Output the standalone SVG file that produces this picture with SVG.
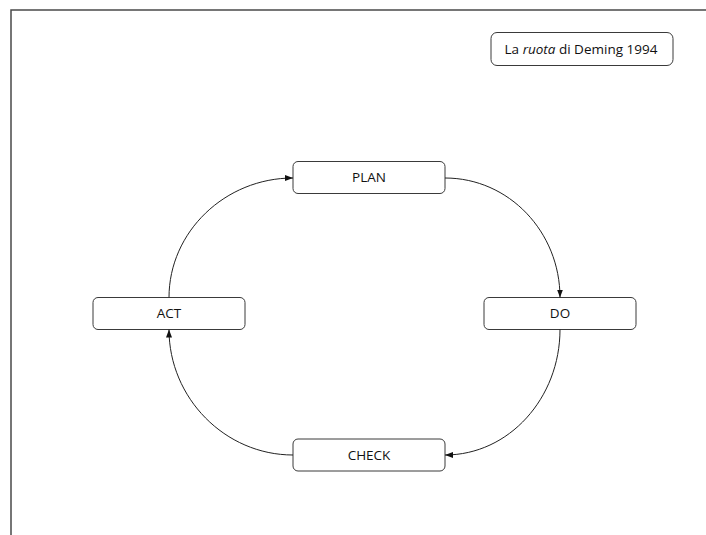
<svg xmlns="http://www.w3.org/2000/svg" width="706" height="535" viewBox="0 0 706 535">
  <style>
    .box { fill: #ffffff; stroke: #3a3a3a; stroke-width: 1; }
    .label { font-family: "Open Sans", "Liberation Sans", Arial, sans-serif; font-size: 13.5px; fill: #111111; text-anchor: middle; dominant-baseline: central; }
    .edge { fill: none; stroke: #222222; stroke-width: 1; marker-end: url(#arrow); }
    .frame { fill: none; stroke: #4a4a4a; stroke-width: 1.5; }
  </style>
  <defs>
    <marker id="arrow" viewBox="0 0 8 6" refX="8" refY="3" markerWidth="8" markerHeight="6" markerUnits="userSpaceOnUse" orient="auto">
      <path d="M0,0 L8,3 L0,6 Z" fill="#111111"/>
    </marker>
  </defs>

  <rect width="706" height="535" fill="#ffffff"/>

  <!-- page frame: top and left edges -->
  <path class="frame" d="M11,535 L11,10 L706,10"/>

  <g id="title">
    <rect class="box" x="491" y="32.5" width="182" height="33" rx="6"/>
    <text class="label" x="581" y="49">La <tspan font-style="italic">ruota</tspan> di Deming 1994</text>
  </g>

  <g id="plan">
    <rect class="box" x="293" y="161.5" width="152" height="32" rx="5"/>
    <text class="label" x="369" y="177">PLAN</text>
  </g>

  <g id="do">
    <rect class="box" x="484" y="297.5" width="152" height="32" rx="5"/>
    <text class="label" x="560" y="313">DO</text>
  </g>

  <g id="check">
    <rect class="box" x="293" y="439" width="152" height="32" rx="5"/>
    <text class="label" x="369" y="455">CHECK</text>
  </g>

  <g id="act">
    <rect class="box" x="93" y="297.5" width="152" height="32" rx="5"/>
    <text class="label" x="169" y="313">ACT</text>
  </g>

  <g id="connectors">
    <path class="edge" d="M169,297.5 C169,232 225,178 293,178"/>
    <path class="edge" d="M445,178 C509,178 560,232 560,297.5"/>
    <path class="edge" d="M560,329.5 C560,398 509,455 445,455"/>
    <path class="edge" d="M293,455 C225,455 169,398 169,329.5"/>
  </g>
</svg>
